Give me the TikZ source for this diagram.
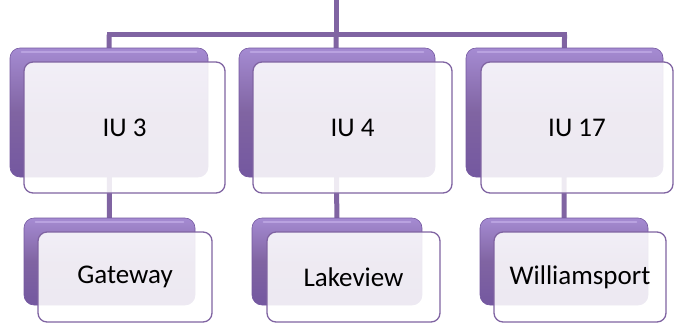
\documentclass[tikz,border=0pt]{standalone}
\usepackage{fontspec}
\setmainfont{Carlito}
\definecolor{orgpurple}{HTML}{8064A2}
\definecolor{orgpurpledark}{HTML}{7458A0}
\definecolor{orgpurplelight}{HTML}{A58BD2}
\definecolor{orgpurplehi}{HTML}{B9A2E0}
\tikzset{
  backbox/.style={rectangle, rounded corners=10pt, inner sep=0pt,
    top color=orgpurplelight, bottom color=orgpurpledark, middle color=orgpurple,
    draw=orgpurpledark, line width=0.6pt},
  frontbox/.style={rectangle, rounded corners=9pt, inner sep=0pt,
    fill=white, fill opacity=0.87, text opacity=1,
    draw=orgpurple, line width=1.3pt,
    font=\fontsize{27}{32}\selectfont},
  link/.style={draw=orgpurple, line width=5pt},
}
\newcommand{\sheen}[1]{%
  \draw[orgpurplehi, line width=2pt, line cap=round]
    ([xshift=12pt,yshift=-4pt]#1.north west) -- ([xshift=-12pt,yshift=-4pt]#1.north east);}
\begin{document}
\begin{tikzpicture}[x=1pt,y=-1pt]
  \useasboundingbox (0,0) rectangle (674,325);

  % trunk and branch bar
  \coordinate (top) at (336,0);
  \coordinate (bar) at (336,34.5);
  \coordinate (barL) at (109,34.5);
  \coordinate (barR) at (564.5,34.5);

  % anchors for the plates (placed first so the connectors can reach them)
  \path (109,112.5) coordinate (c3) (337,112.5) coordinate (c4) (564.5,112.5) coordinate (c17);
  \path (109.5,261.5) coordinate (cg) (337,261.5) coordinate (cl) (564,261.5) coordinate (cw);

  % connectors sit behind the plates
  \path[link] (top) -- (bar);
  \path[link, line cap=rect] (barL) -- (barR);
  \path[link] (barL) -- (cg);
  \path[link] (bar) -- (cl);
  \path[link] (barR) -- (cw);

  % back plates of the upper row
  \node[backbox, minimum width=198pt, minimum height=129pt] (b3)  at (c3) {};
  \node[backbox, minimum width=196pt, minimum height=129pt] (b4)  at (c4) {};
  \node[backbox, minimum width=197pt, minimum height=129pt] (b17) at (c17) {};

  % back plates of the lower row
  \node[backbox, minimum width=171pt, minimum height=87pt] (bg) at (cg) {};
  \node[backbox, minimum width=170pt, minimum height=87pt] (bl) at (cl) {};
  \node[backbox, minimum width=168pt, minimum height=87pt] (bw) at (cw) {};
  \sheen{b3}\sheen{b4}\sheen{b17}\sheen{bg}\sheen{bl}\sheen{bw}

  % front cards with labels
  \node[frontbox, minimum width=201pt, minimum height=131pt] (f3)  at (124.5,127.5) {IU 3};
  \node[frontbox, minimum width=199pt, minimum height=131pt] (f4)  at (352.5,127.5) {IU 4};
  \node[frontbox, minimum width=192pt, minimum height=131pt] (f17) at (577,127.5) {IU 17};
  \node[frontbox, minimum width=174pt, minimum height=90pt] (fg) at (125,277) {Gateway};
  \node[frontbox, minimum width=173pt, minimum height=90pt] (fl) at (353.5,277) {Lakeview};
  \node[frontbox, minimum width=172pt, minimum height=90pt] (fw) at (580,277) {Williamsport};
\end{tikzpicture}
\end{document}
